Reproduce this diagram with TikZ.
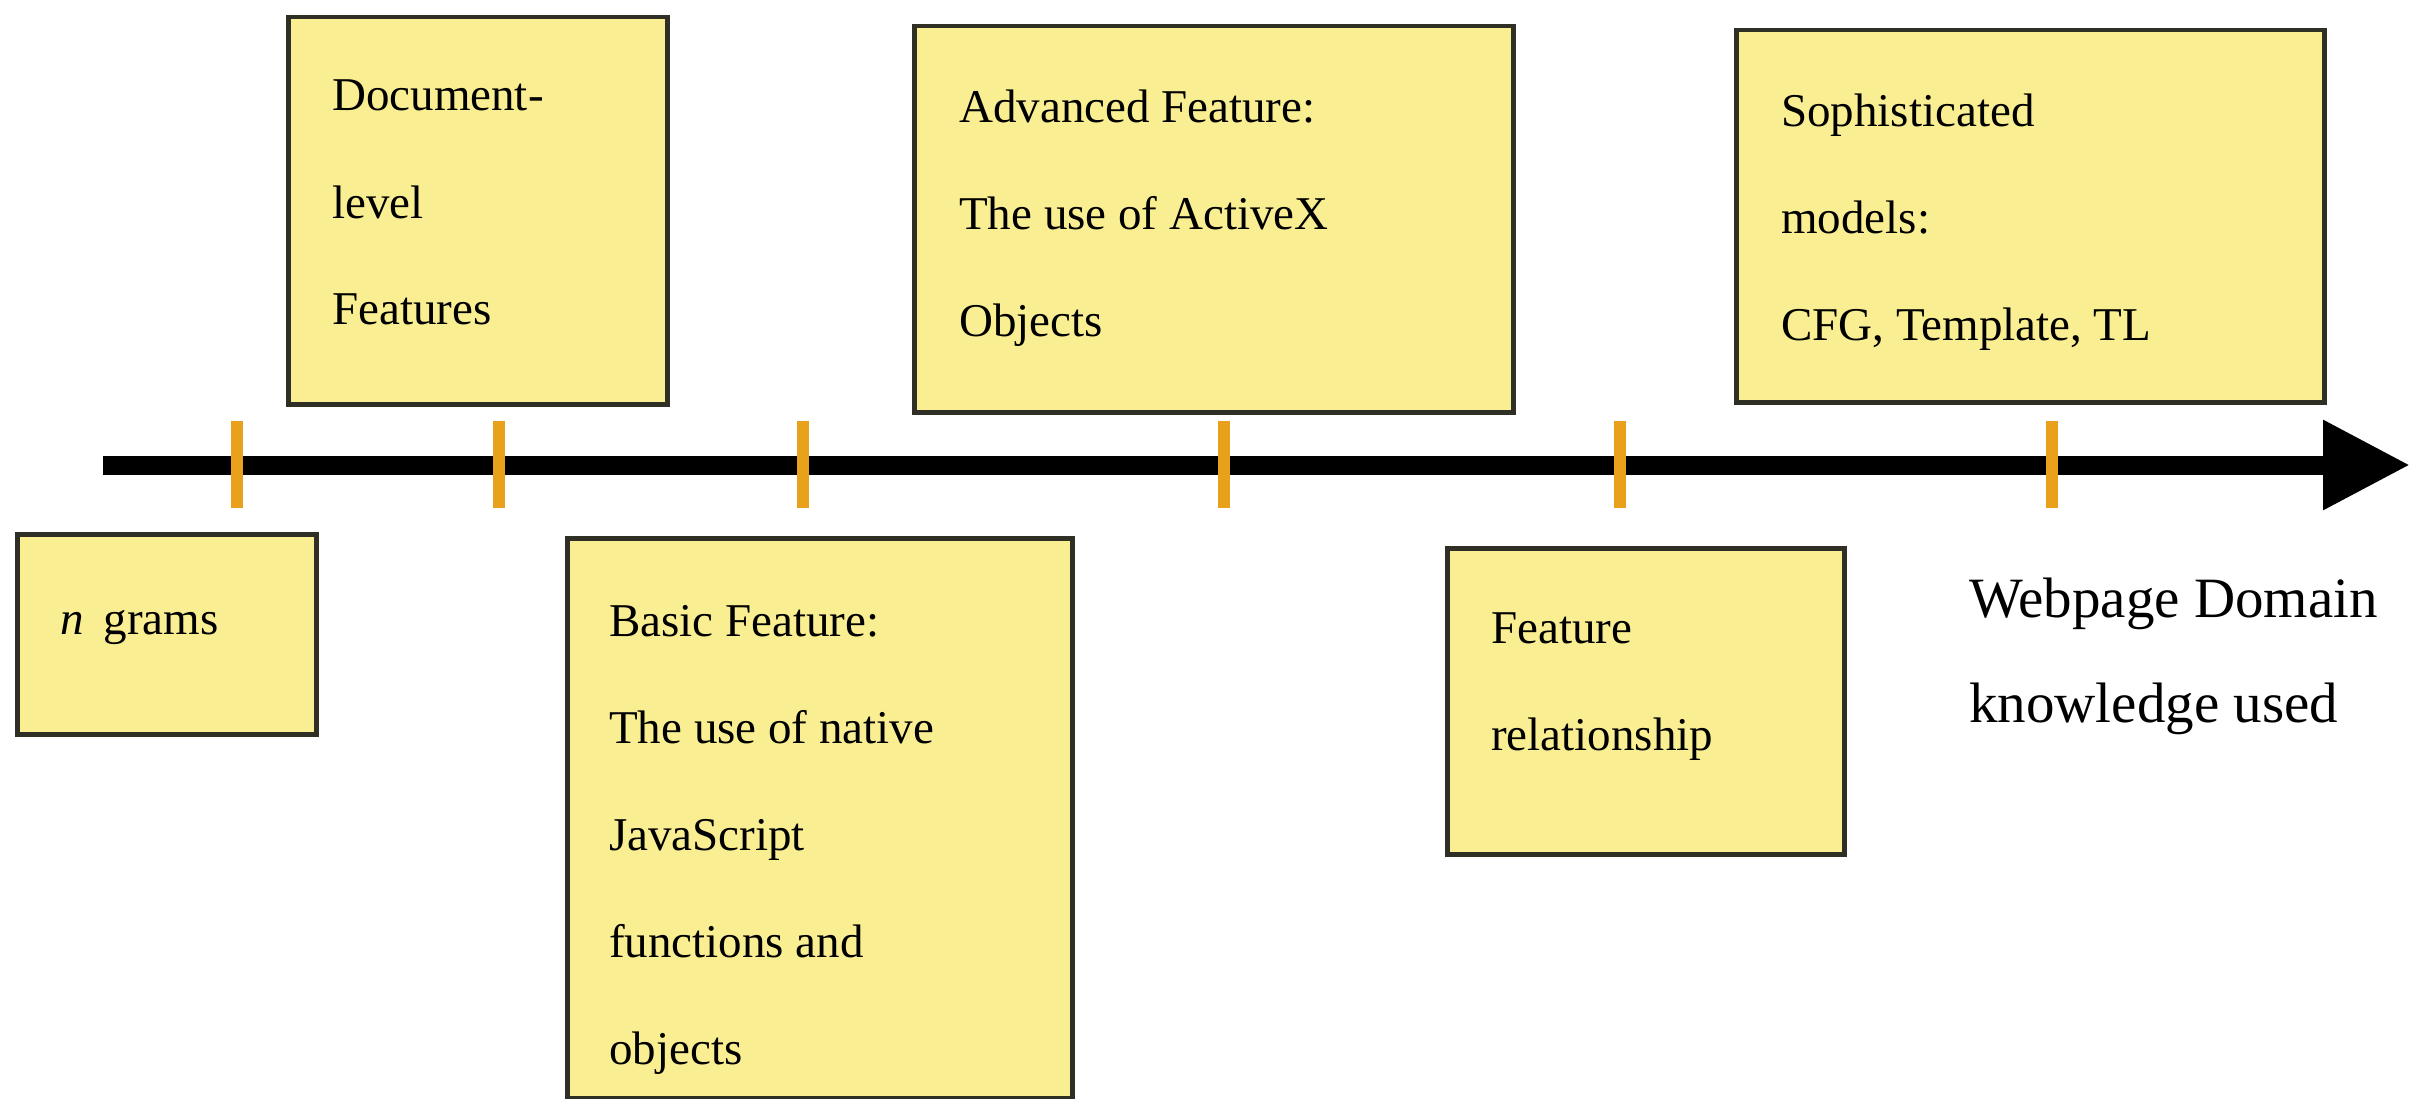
\documentclass[tikz,border=0pt]{standalone}
\usepackage{fontspec}
\setmainfont{Liberation Serif}
\usetikzlibrary{arrows.meta}
\definecolor{boxfill}{HTML}{F9EE91}
\definecolor{boxline}{HTML}{2F2F25}
\definecolor{tickc}{HTML}{E9A11B}
\tikzset{
  fbox/.style={rectangle, draw=boxline, line width=4.5pt, fill=boxfill, inner sep=0pt, anchor=north west},
  btxt/.style={anchor=base west, inner sep=0pt, align=left, font=\fontsize{47}{107}\selectfont},
  axisline/.style={line width=19pt, -{Triangle[length=87pt,width=85pt]}},
  tickmark/.style={draw=tickc, line width=12pt},
}
\begin{document}
\begin{tikzpicture}[x=1pt,y=-1pt]
\useasboundingbox (0,0) rectangle (2429,1099);
% axis
\coordinate (axs) at (103,465);
\coordinate (axe) at (2410,465);
\draw[axisline] (axs) -- (axe);
% ticks
\foreach \n/\x in {t1/237,t2/499,t3/803,t4/1224,t5/1620,t6/2052}{
  \coordinate (\n a) at (\x,421);
  \coordinate (\n b) at (\x,508);
  \draw[tickmark] (\n a) -- (\n b);
}
% boxes
\node[fbox, minimum width=299pt, minimum height=200pt] (ngram) at (15,532) {};
\node[fbox, minimum width=379pt, minimum height=387pt] (doc) at (286,15) {};
\node[fbox, minimum width=505pt, minimum height=560pt] (basic) at (565,536) {};
\node[fbox, minimum width=599pt, minimum height=386pt] (adv) at (912,24) {};
\node[fbox, minimum width=397pt, minimum height=306pt] (rel) at (1445,546) {};
\node[fbox, minimum width=588pt, minimum height=372pt] (soph) at (1734,28) {};
% texts (base anchor = baseline of the last line)
\node[btxt] (ngramt) at ([xshift=45pt,yshift=-102pt]ngram.north west) {\textit{n}\hspace{20pt}grams};
\node[btxt] (doct) at ([xshift=46pt,yshift=-310pt]doc.north west) {Document-\\level\\Features};
\node[btxt] (basict) at ([xshift=44pt,yshift=-528pt]basic.north west) {Basic Feature:\\The use of native\\JavaScript\\functions and\\objects};
\node[btxt] (advt) at ([xshift=47pt,yshift=-313pt]adv.north west) {Advanced Feature:\\The use of ActiveX\\Objects};
\node[btxt] (relt) at ([xshift=46pt,yshift=-204pt]rel.north west) {Feature\\relationship};
\node[btxt] (sopht) at ([xshift=47pt,yshift=-313pt]soph.north west) {Sophisticated\\models:\\CFG, Template, TL};
\node[anchor=base west, inner sep=0pt, align=left, font=\fontsize{57}{105}\selectfont] (lab) at (1969,722) {Webpage Domain\\knowledge used};
\end{tikzpicture}
\end{document}
